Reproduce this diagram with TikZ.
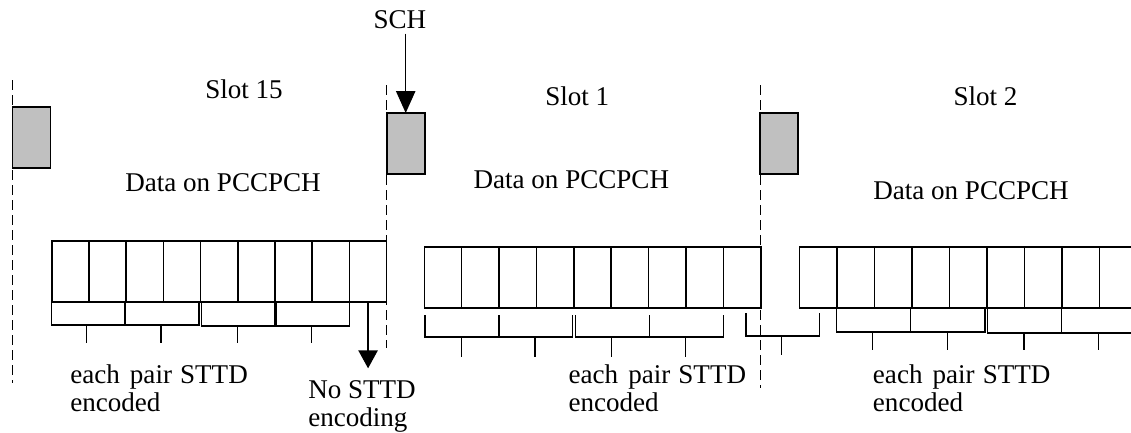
\documentclass[tikz,border=0pt]{standalone}
\usepackage{fontspec}
\setmainfont{Liberation Serif}
\usetikzlibrary{arrows.meta,calc}
\definecolor{boxgray}{RGB}{192,192,192}
\begin{document}
\begin{tikzpicture}[x=0.75pt,y=-0.75pt,
  txt/.style={font=\fontsize{20.3pt}{21.3pt}\selectfont, inner sep=0pt, anchor=base west, align=left},
  cell/.style={draw, line width=1.2pt, minimum width=#1, minimum height=46pt, inner sep=0pt, outer sep=0pt, anchor=north west},
  gbox/.style={draw, line width=1.3pt, fill=boxgray, minimum width=28.5pt, minimum height=45.75pt, inner sep=0pt, outer sep=0pt, anchor=north west},
  slotline/.style={line width=0.8pt, dash pattern=on 7.5pt off 3.75pt},
  brk/.style={line width=1.1pt},
  bigarrow/.style={line width=1.1pt, -{Triangle[width=14.5pt,length=#1]}}
]
\useasboundingbox (0,0) rectangle (1131,432);

% slot boundaries
\draw[slotline] (12.5,80) -- (12.5,383);
\draw[slotline] (386.5,85) -- (386.5,348);
\draw[slotline] (760.5,85) -- (760.5,388);

% SCH boxes
\node[gbox] (b1) at (12.5,107) {};
\node[gbox] (b2) at (386.7,113) {};
\node[gbox] (b3) at (760.3,113) {};

% labels
\node[txt] (sch) at (373.3,28.3) {SCH};
\node[txt] (s15) at (205,98) {Slot 15};
\node[txt] (s1) at (545,105) {Slot 1};
\node[txt] (s2) at (953.3,105) {Slot 2};
\node[txt] (d15) at (125,191.5) {Data on PCCPCH};
\node[txt] (d1) at (473.3,188.5) {Data on PCCPCH};
\node[txt] (d2) at (873,199) {Data on PCCPCH};

\draw[bigarrow=16.5pt] ($(b2.north |- sch.south)+(0,4.7)$) -- (b2.north);

% cells
\foreach \i in {1,...,9} {
  \node[cell=27.915pt] (a\i) at ({51.7+(\i-1)*37.22},240.7) {};
  \node[cell=28.035pt] (c\i) at ({424.3+(\i-1)*37.38},246.7) {};
  \node[cell=28.125pt] (e\i) at ({799.3+(\i-1)*37.5},246.7) {};
}

% brackets slot 15
\draw[brk] (51.7,301.7) |- (125,325) -- (125,301.7);
\draw[brk] (125,301.7) |- (199,325) -- (199,301.7);
\draw[brk] (201.7,301.7) |- (275,326) -- (275,301.7);
\draw[brk] (276.3,301.7) |- (349.3,326) -- (349.3,301.7);
\foreach \x in {86.7,161,237.7,311.7} \draw[brk] (\x,325.5) -- (\x,343);

% brackets slot 1
\draw[brk] (425,315) |- (499,337) -- (499,315);
\draw[brk] (499,315) |- (572.7,337) -- (572.7,315);
\draw[brk] (575.7,315) |- (649.3,337) -- (649.3,315);
\draw[brk] (649.3,315) |- (723.3,337) -- (723.3,315);
\foreach \x in {461.7,535,611.7,685.7} \draw[brk] (\x,337) -- (\x,356.7);

% bracket across slot boundary
\draw[brk] (746,313) |- (819.3,336) -- (819.3,313);
\draw[brk] (781.7,336) -- (781.7,355);

% brackets slot 2
\draw[brk] (836.7,308.3) |- (910.7,332) -- (910.7,308.3);
\draw[brk] (910.7,308.3) |- (985,332) -- (985,308.3);
\draw[brk] (987.3,308.3) |- (1061.7,333) -- (1061.7,308.3);
\draw[brk] (1061.7,308.3) |- (1140,333);
\foreach \x in {872.7,947.7,1024,1098.3} \draw[brk] (\x,332.5) -- (\x,350);

% no STTD arrow
\node[txt] (ns) at (308,426.7) {No STTD\\encoding};
\draw[bigarrow=13.5pt] (a9.south) -- ($(a9.south)+(0,66.3)$);

% pair labels
\node[txt] (p15) at (70,411.7) {each\hspace{2.5pt} pair\hspace{1pt} STTD\\encoded};
\node[txt] (p1) at (568.3,411.7) {each\hspace{2.5pt} pair\hspace{1pt} STTD\\encoded};
\node[txt] (p2) at (872.7,411.7) {each\hspace{2.5pt} pair\hspace{1pt} STTD\\encoded};
\end{tikzpicture}
\end{document}
